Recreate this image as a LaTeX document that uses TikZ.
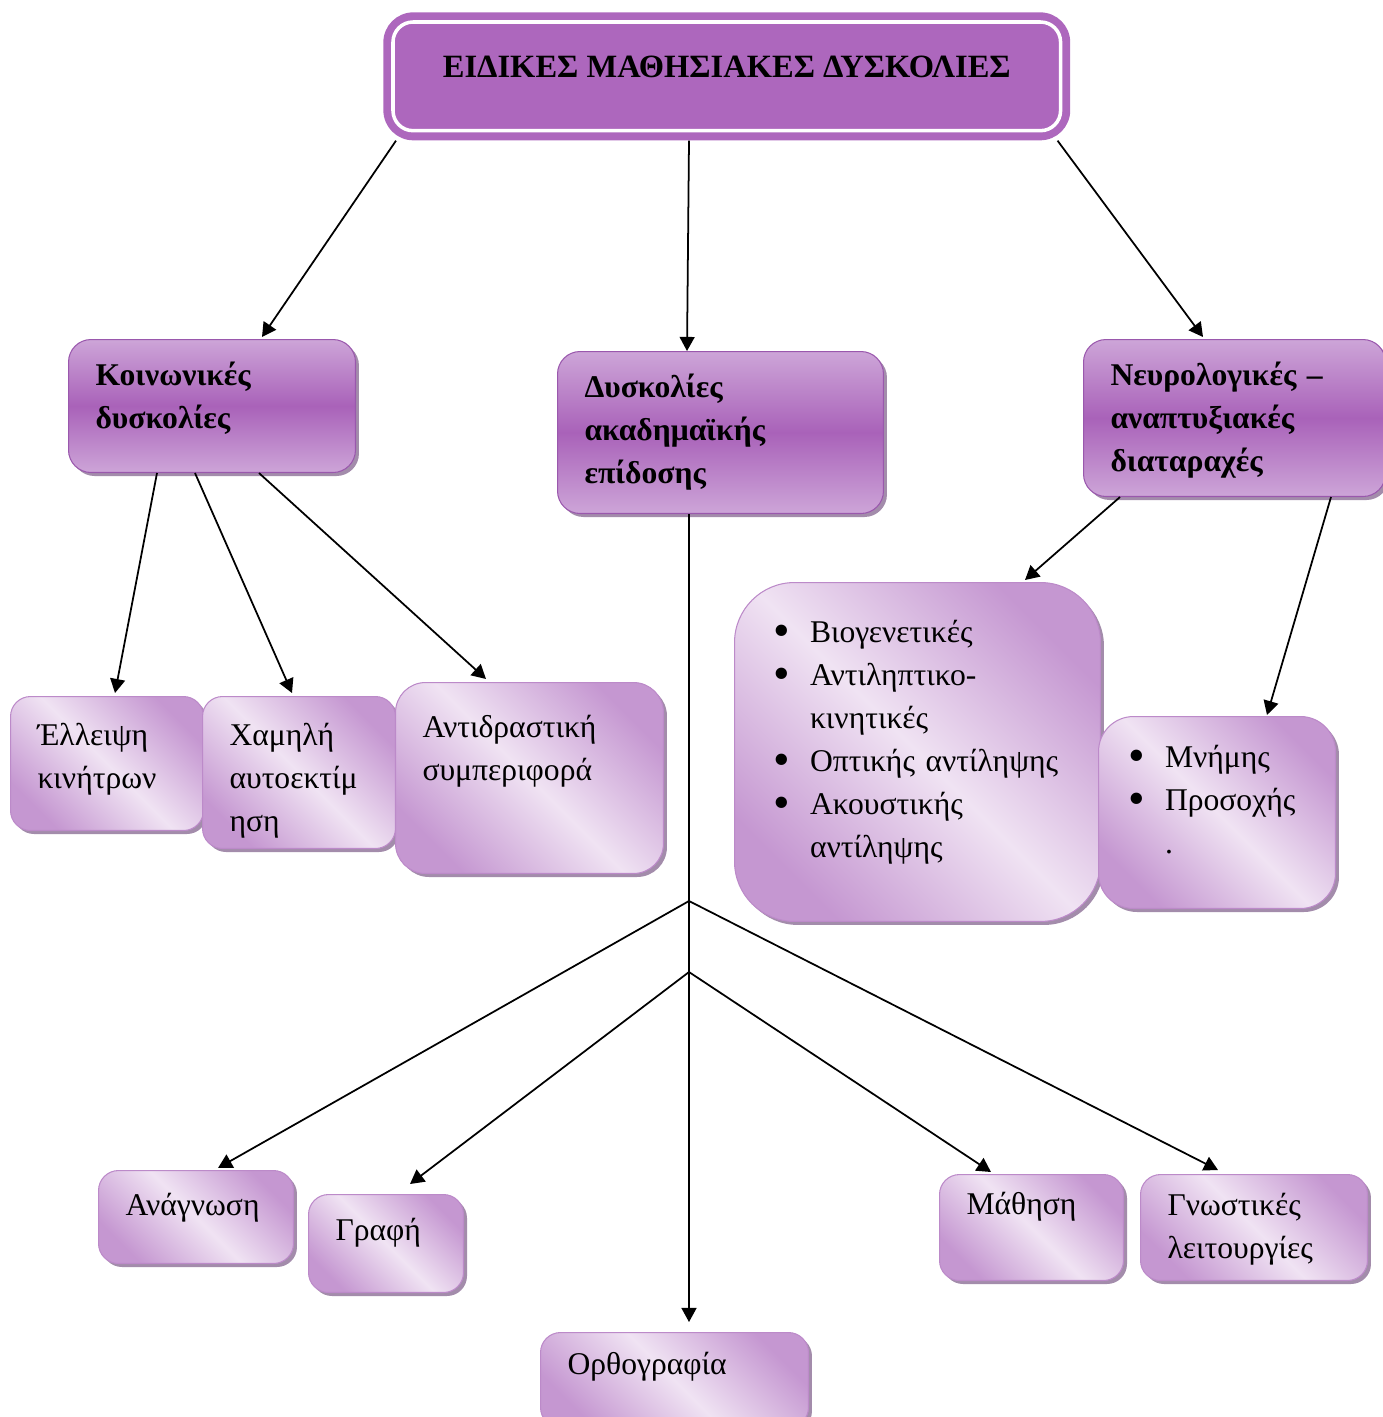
\documentclass[tikz,border=0pt]{standalone}
\usepackage{fontspec}
\setmainfont{Liberation Serif}
\usetikzlibrary{arrows.meta,shadows}

\definecolor{titlepurple}{HTML}{AD67BD}
\definecolor{darkmid}{HTML}{A962B9}
\definecolor{darkend}{HTML}{CDA5D8}
\definecolor{darkline}{HTML}{9A58AD}
\definecolor{lightmid}{HTML}{F0E3F3}
\definecolor{lightend}{HTML}{C597D1}
\definecolor{lightline}{HTML}{BC8AC9}
\definecolor{shadowc}{HTML}{8C6F96}

% list marks inside the boxes
\newcommand{\itm}{\makebox[0.73cm][l]{\raisebox{-0.12em}{\scalebox{1.5}{\textbullet}}}}
\newcommand{\cnt}{\hspace*{0.73cm}}

\tikzset{
	basebox/.style={anchor=north west, inner xsep=0.54cm, inner ysep=0pt, align=left,
		font=\fontsize{18}{24.5}\selectfont,
		drop shadow={shadow xshift=0.07cm, shadow yshift=-0.07cm, fill=shadowc, opacity=0.8}},
	darkbox/.style={basebox, rounded corners=0.45cm, draw=darkline, line width=0.6pt,
		top color=darkend, bottom color=darkend, middle color=darkmid,
		text height=0.92cm, font=\fontsize{18}{24.5}\selectfont\bfseries},
	lightbox/.style={basebox, rounded corners=0.4cm, draw=lightline, line width=0.6pt,
		top color=lightend, bottom color=lightend, middle color=lightmid, shading angle=-45,
		text height=0.92cm},
	titlebox/.style={anchor=north west, fill=titlepurple, rounded corners=0.6cm,
		minimum width=13.74cm, inner sep=0pt, text height=1.3cm, text depth=1.26cm,
		font=\fontsize{18.5}{22}\selectfont\bfseries},
	arr/.style={line width=1pt, -{Triangle[length=8pt,width=8.5pt]}}
}

\begin{document}
\begin{tikzpicture}[x=0.02cm, y=-0.02cm]
	\useasboundingbox (0,0) rectangle (1383,1417);
	%top title
	\node[titlebox] (title) at (383,12) {ΕΙΔΙΚΕΣ ΜΑΘΗΣΙΑΚΕΣ ΔΥΣΚΟΛΙΕΣ};
	\draw[white, line width=2pt, rounded corners=0.4cm] ([shift={(10,10)}]title.north west) rectangle ([shift={(-10,-10)}]title.south east);

	%second level
	\node[darkbox, text width=4.66cm, text depth=1.74cm] (koin) at (68,339) {Κοινωνικές\\ δυσκολίες};
	\node[darkbox, text width=5.44cm, text depth=2.32cm] (acad) at (557,351) {Δυσκολίες\\ ακαδημαϊκής\\ επίδοσης};
	\node[darkbox, text width=4.96cm, text depth=2.22cm] (neur) at (1083,339) {Νευρολογικές~–\\ αναπτυξιακές\\ διαταραχές};

	%third level
	\node[lightbox, text width=2.78cm, text height=0.98cm, text depth=1.70cm] (ell) at (10,696) {Έλλειψη\\ κινήτρων};
	\node[lightbox, text width=2.78cm, text height=0.98cm, text depth=2.06cm] (xam) at (202,696) {Χαμηλή\\ αυτοεκτίμ\\ ηση};
	\node[lightbox, rounded corners=0.6cm, text width=4.28cm, text height=1.10cm, text depth=2.72cm] (anti) at (395,682) {Αντιδραστική\\ συμπεριφορά};
	\node[lightbox, rounded corners=1.2cm, inner xsep=0.78cm, text width=5.76cm, text height=1.2cm, text depth=5.58cm] (bio) at (734,582)
		{\itm Βιογενετικές\\ \itm Αντιληπτικο-\\ \cnt κινητικές\\ \itm Οπτικής~αντίληψης\\ \itm Ακουστικής\\ \cnt αντίληψης};
	\node[lightbox, rounded corners=0.7cm, inner xsep=0.6cm, text width=3.54cm, text height=1.02cm, text depth=2.82cm] (mnim) at (1098,716)
		{\itm Μνήμης\\ \itm Προσοχής\\ \cnt .};

	%bottom level
	\node[lightbox, text width=2.82cm, text height=0.9cm, text depth=0.96cm] (anag) at (98,1170) {Ανάγνωση};
	\node[lightbox, text width=2.02cm, text height=0.92cm, text depth=1.04cm] (graf) at (308,1194) {Γραφή};
	\node[lightbox, text width=4.28cm, text height=0.84cm, text depth=1.06cm] (orth) at (540,1332) {Ορθογραφία};
	\node[lightbox, text width=2.6cm, text height=0.8cm, text depth=1.32cm] (math) at (939,1174) {Μάθηση};
	\node[lightbox, text width=3.46cm, text height=0.82cm, text depth=1.3cm] (gnos) at (1140,1174) {Γνωστικές\\ λειτουργίες};

	%arrows
	\draw[arr] ([shift={(13,0)}]title.south west) -- ([shift={(194,-2)}]koin.north west);
	\draw[arr] ([shift={(306,0)}]title.south west) -- ([shift={(130,0)}]acad.north west);
	\draw[arr] ([shift={(-13,0)}]title.south east) -- ([shift={(120,-2)}]neur.north west);
	\foreach \s/\t/\e in {89/ell/105, 127/xam/90, 191/anti/91}
	\draw[arr] ([shift={(\s,0)}]koin.south west) -- ([shift={(\e,-3)}]\t.north west);
	\draw[arr] ([shift={(37,0)}]neur.south west) -- ([shift={(291,-2)}]bio.north west);
	\draw[arr] ([shift={(248,0)}]neur.south west) -- ([shift={(169,-1)}]mnim.north west);

	%trunk and its branches
	\draw[arr] ([shift={(132,0)}]acad.south west) -- ([shift={(149,-10)}]orth.north west);
	\coordinate (b1) at (689,901);
	\coordinate (b2) at (689,972);
	\draw[arr] (b1) -- ([shift={(120,-2)}]anag.north west);
	\draw[arr] (b1) -- ([shift={(78,-4)}]gnos.north west);
	\draw[arr] (b2) -- ([shift={(102,-10)}]graf.north west);
	\draw[arr] (b2) -- ([shift={(52,-2)}]math.north west);
\end{tikzpicture}
\end{document}
